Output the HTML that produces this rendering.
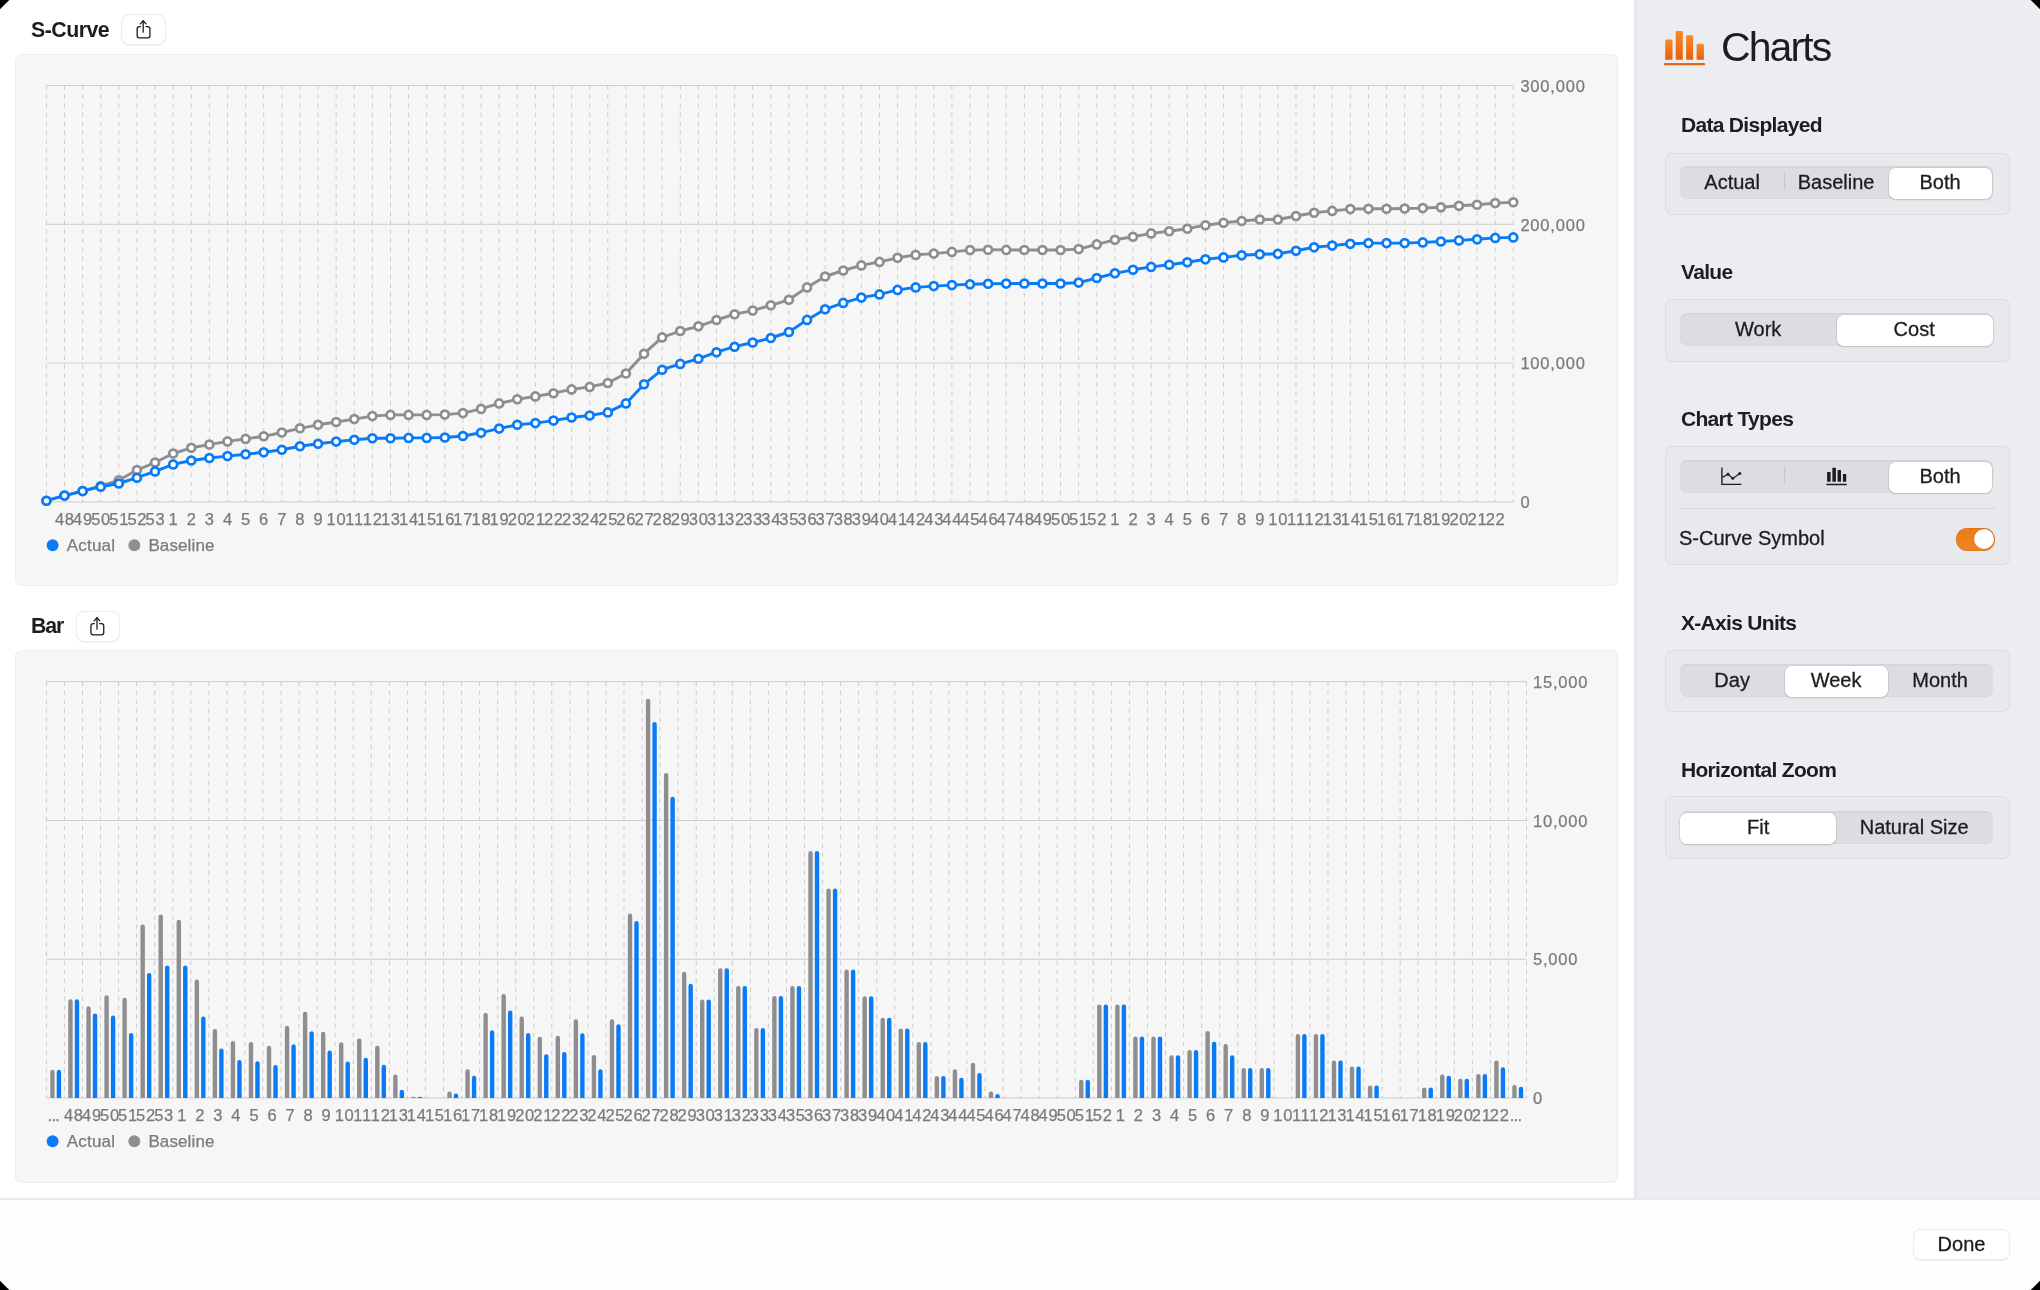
<!DOCTYPE html>
<html><head><meta charset="utf-8"><title>Charts</title>
<style>
html,body{margin:0;padding:0}
body{width:2040px;height:1290px;position:relative;overflow:hidden;background:#ffffff;font-family:"Liberation Sans",sans-serif;color:#1d1d1f}
.abs{position:absolute}
svg,div{will-change:transform}
.panel{position:absolute;background:#f6f6f7;border-radius:6px;box-shadow:inset 0 0 0 1px rgba(0,0,0,0.03)}
.title{position:absolute;font-weight:bold;font-size:21px;line-height:21px;letter-spacing:-0.3px;white-space:nowrap;color:#1d1d1f}
.sbtn{position:absolute;box-sizing:border-box;width:45.4px;height:31.4px;background:#fff;border-radius:8.5px;border:1px solid rgba(0,0,0,0.075);box-shadow:0 0.8px 0.8px rgba(0,0,0,0.06)}
.side{position:absolute;left:1634px;top:0;width:406px;height:1199px;background:#ecedf1;box-shadow:inset 2.5px 0 0 rgba(0,0,0,0.025)}
.head{position:absolute;left:1680.5px;margin-top:-0.5px;font-weight:bold;font-size:21px;line-height:21px;letter-spacing:-0.7px;white-space:nowrap;color:#1d1d1f}
.box{position:absolute;left:1665.2px;width:344.5px;background:#e8e9ed;border-radius:7px;box-shadow:inset 0 0 0 1px rgba(0,0,0,0.05)}
.seg{position:absolute;background:#dcdde1;border-radius:7px;box-shadow:inset 0 1.5px 1px rgba(0,0,0,0.04),inset 0 -1px 0 rgba(0,0,0,0.015)}
.segsel{position:absolute;background:#fff;border-radius:6.5px;box-shadow:0 0 0 0.5px rgba(0,0,0,0.10),0 1px 2px rgba(0,0,0,0.15)}
.segsep{position:absolute;top:7.4px;width:1px;height:16.4px;background:#c6c6ca}
.segitem{position:absolute;top:0;height:33.4px;line-height:33.4px;text-align:center;font-size:20px;color:#1d1d1f;white-space:nowrap;-webkit-text-stroke:0.3px #1d1d1f}
.lbl{position:absolute;font-size:20px;line-height:20px;white-space:nowrap;color:#1d1d1f;-webkit-text-stroke:0.3px #1d1d1f}
.corner{position:absolute;width:0;height:0}
</style></head><body>

<div class="title" style="left:30.9px;top:20.1px;font-size:21.3px;letter-spacing:-0.5px">S-Curve</div>
<div class="sbtn" style="left:121.3px;top:14.3px;width:45.2px;height:31.2px"><svg width="45.2" height="32" viewBox="0 0 45.2 32" style="position:absolute;left:-1px;top:-1px"><g fill="none" stroke="#1d1d1f" stroke-width="1.3" stroke-linecap="round" stroke-linejoin="round"><path d="M19.4 12.65 H18.4 Q16.15 12.65 16.15 14.9 V21.6 Q16.15 23.85 18.4 23.85 H26.7 Q28.95 23.85 28.95 21.6 V14.9 Q28.95 12.65 26.7 12.65 H25"/><path d="M22.2 18.2 V6.9"/><path d="M19.4 9.9 L22.2 6.8 L25 9.9"/></g></svg></div>
<div class="panel" style="left:15px;top:54px;width:1603px;height:532px"></div>
<div class="title" style="left:30.7px;top:616.2px;font-size:21.3px;letter-spacing:-1.1px">Bar</div>
<div class="sbtn" style="left:75.5px;top:610.5px;width:44.2px;height:31.2px"><svg width="44.2" height="32" viewBox="0 0 44.2 32" style="position:absolute;left:-1px;top:-1px"><g fill="none" stroke="#1d1d1f" stroke-width="1.3" stroke-linecap="round" stroke-linejoin="round"><path d="M18.2 12.65 H17.2 Q14.95 12.65 14.95 14.9 V21.6 Q14.95 23.85 17.2 23.85 H25.5 Q27.75 23.85 27.75 21.6 V14.9 Q27.75 12.65 25.5 12.65 H23.8"/><path d="M21 18.2 V6.9"/><path d="M18.2 9.9 L21 6.8 L23.8 9.9"/></g></svg></div>
<div class="panel" style="left:15px;top:650px;width:1603px;height:533px"></div>
<svg class="abs" style="left:0;top:0" width="1634" height="1199" viewBox="0 0 1634 1199">
<line x1="46.4" y1="85.5" x2="1513.31" y2="85.5" stroke="#cdcdcf" stroke-width="1"/>
<line x1="46.4" y1="224.3" x2="1513.31" y2="224.3" stroke="#cdcdcf" stroke-width="1"/>
<line x1="46.4" y1="363.1" x2="1513.31" y2="363.1" stroke="#cdcdcf" stroke-width="1"/>
<line x1="46.4" y1="501.9" x2="1513.31" y2="501.9" stroke="#cdcdcf" stroke-width="1"/>
<g stroke="#cbcbce" stroke-width="1" stroke-dasharray="4.4 4.6">
<line x1="46.4" y1="85.5" x2="46.4" y2="501.9"/>
<line x1="64.51" y1="85.5" x2="64.51" y2="501.9"/>
<line x1="82.62" y1="85.5" x2="82.62" y2="501.9"/>
<line x1="100.73" y1="85.5" x2="100.73" y2="501.9"/>
<line x1="118.84" y1="85.5" x2="118.84" y2="501.9"/>
<line x1="136.95" y1="85.5" x2="136.95" y2="501.9"/>
<line x1="155.06" y1="85.5" x2="155.06" y2="501.9"/>
<line x1="173.17" y1="85.5" x2="173.17" y2="501.9"/>
<line x1="191.28" y1="85.5" x2="191.28" y2="501.9"/>
<line x1="209.39" y1="85.5" x2="209.39" y2="501.9"/>
<line x1="227.5" y1="85.5" x2="227.5" y2="501.9"/>
<line x1="245.61" y1="85.5" x2="245.61" y2="501.9"/>
<line x1="263.72" y1="85.5" x2="263.72" y2="501.9"/>
<line x1="281.83" y1="85.5" x2="281.83" y2="501.9"/>
<line x1="299.94" y1="85.5" x2="299.94" y2="501.9"/>
<line x1="318.05" y1="85.5" x2="318.05" y2="501.9"/>
<line x1="336.16" y1="85.5" x2="336.16" y2="501.9"/>
<line x1="354.27" y1="85.5" x2="354.27" y2="501.9"/>
<line x1="372.38" y1="85.5" x2="372.38" y2="501.9"/>
<line x1="390.49" y1="85.5" x2="390.49" y2="501.9"/>
<line x1="408.6" y1="85.5" x2="408.6" y2="501.9"/>
<line x1="426.71" y1="85.5" x2="426.71" y2="501.9"/>
<line x1="444.82" y1="85.5" x2="444.82" y2="501.9"/>
<line x1="462.93" y1="85.5" x2="462.93" y2="501.9"/>
<line x1="481.04" y1="85.5" x2="481.04" y2="501.9"/>
<line x1="499.15" y1="85.5" x2="499.15" y2="501.9"/>
<line x1="517.26" y1="85.5" x2="517.26" y2="501.9"/>
<line x1="535.37" y1="85.5" x2="535.37" y2="501.9"/>
<line x1="553.48" y1="85.5" x2="553.48" y2="501.9"/>
<line x1="571.59" y1="85.5" x2="571.59" y2="501.9"/>
<line x1="589.7" y1="85.5" x2="589.7" y2="501.9"/>
<line x1="607.81" y1="85.5" x2="607.81" y2="501.9"/>
<line x1="625.92" y1="85.5" x2="625.92" y2="501.9"/>
<line x1="644.03" y1="85.5" x2="644.03" y2="501.9"/>
<line x1="662.14" y1="85.5" x2="662.14" y2="501.9"/>
<line x1="680.25" y1="85.5" x2="680.25" y2="501.9"/>
<line x1="698.36" y1="85.5" x2="698.36" y2="501.9"/>
<line x1="716.47" y1="85.5" x2="716.47" y2="501.9"/>
<line x1="734.58" y1="85.5" x2="734.58" y2="501.9"/>
<line x1="752.69" y1="85.5" x2="752.69" y2="501.9"/>
<line x1="770.8" y1="85.5" x2="770.8" y2="501.9"/>
<line x1="788.91" y1="85.5" x2="788.91" y2="501.9"/>
<line x1="807.02" y1="85.5" x2="807.02" y2="501.9"/>
<line x1="825.13" y1="85.5" x2="825.13" y2="501.9"/>
<line x1="843.24" y1="85.5" x2="843.24" y2="501.9"/>
<line x1="861.35" y1="85.5" x2="861.35" y2="501.9"/>
<line x1="879.46" y1="85.5" x2="879.46" y2="501.9"/>
<line x1="897.57" y1="85.5" x2="897.57" y2="501.9"/>
<line x1="915.68" y1="85.5" x2="915.68" y2="501.9"/>
<line x1="933.79" y1="85.5" x2="933.79" y2="501.9"/>
<line x1="951.9" y1="85.5" x2="951.9" y2="501.9"/>
<line x1="970.01" y1="85.5" x2="970.01" y2="501.9"/>
<line x1="988.12" y1="85.5" x2="988.12" y2="501.9"/>
<line x1="1006.23" y1="85.5" x2="1006.23" y2="501.9"/>
<line x1="1024.34" y1="85.5" x2="1024.34" y2="501.9"/>
<line x1="1042.45" y1="85.5" x2="1042.45" y2="501.9"/>
<line x1="1060.56" y1="85.5" x2="1060.56" y2="501.9"/>
<line x1="1078.67" y1="85.5" x2="1078.67" y2="501.9"/>
<line x1="1096.78" y1="85.5" x2="1096.78" y2="501.9"/>
<line x1="1114.89" y1="85.5" x2="1114.89" y2="501.9"/>
<line x1="1133" y1="85.5" x2="1133" y2="501.9"/>
<line x1="1151.11" y1="85.5" x2="1151.11" y2="501.9"/>
<line x1="1169.22" y1="85.5" x2="1169.22" y2="501.9"/>
<line x1="1187.33" y1="85.5" x2="1187.33" y2="501.9"/>
<line x1="1205.44" y1="85.5" x2="1205.44" y2="501.9"/>
<line x1="1223.55" y1="85.5" x2="1223.55" y2="501.9"/>
<line x1="1241.66" y1="85.5" x2="1241.66" y2="501.9"/>
<line x1="1259.77" y1="85.5" x2="1259.77" y2="501.9"/>
<line x1="1277.88" y1="85.5" x2="1277.88" y2="501.9"/>
<line x1="1295.99" y1="85.5" x2="1295.99" y2="501.9"/>
<line x1="1314.1" y1="85.5" x2="1314.1" y2="501.9"/>
<line x1="1332.21" y1="85.5" x2="1332.21" y2="501.9"/>
<line x1="1350.32" y1="85.5" x2="1350.32" y2="501.9"/>
<line x1="1368.43" y1="85.5" x2="1368.43" y2="501.9"/>
<line x1="1386.54" y1="85.5" x2="1386.54" y2="501.9"/>
<line x1="1404.65" y1="85.5" x2="1404.65" y2="501.9"/>
<line x1="1422.76" y1="85.5" x2="1422.76" y2="501.9"/>
<line x1="1440.87" y1="85.5" x2="1440.87" y2="501.9"/>
<line x1="1458.98" y1="85.5" x2="1458.98" y2="501.9"/>
<line x1="1477.09" y1="85.5" x2="1477.09" y2="501.9"/>
<line x1="1495.2" y1="85.5" x2="1495.2" y2="501.9"/>
<line x1="1513.31" y1="85.5" x2="1513.31" y2="501.9"/>
</g>
<g font-family='"Liberation Sans", sans-serif' font-size="16.5" fill="#7a7a7e" stroke="#7a7a7e" stroke-width="0.25">
<text x="1520.4" y="91.7" letter-spacing="0.8">300,000</text>
<text x="1520.4" y="230.5" letter-spacing="0.8">200,000</text>
<text x="1520.4" y="369.3" letter-spacing="0.8">100,000</text>
<text x="1520.4" y="508.1" letter-spacing="0.8">0</text>
<text x="64.88" y="524.5" text-anchor="middle" letter-spacing="0.75">48</text>
<text x="82.99" y="524.5" text-anchor="middle" letter-spacing="0.75">49</text>
<text x="101.1" y="524.5" text-anchor="middle" letter-spacing="0.75">50</text>
<text x="119.21" y="524.5" text-anchor="middle" letter-spacing="0.75">51</text>
<text x="137.32" y="524.5" text-anchor="middle" letter-spacing="0.75">52</text>
<text x="155.43" y="524.5" text-anchor="middle" letter-spacing="0.75">53</text>
<text x="173.54" y="524.5" text-anchor="middle" letter-spacing="0.75">1</text>
<text x="191.65" y="524.5" text-anchor="middle" letter-spacing="0.75">2</text>
<text x="209.76" y="524.5" text-anchor="middle" letter-spacing="0.75">3</text>
<text x="227.87" y="524.5" text-anchor="middle" letter-spacing="0.75">4</text>
<text x="245.98" y="524.5" text-anchor="middle" letter-spacing="0.75">5</text>
<text x="264.09" y="524.5" text-anchor="middle" letter-spacing="0.75">6</text>
<text x="282.2" y="524.5" text-anchor="middle" letter-spacing="0.75">7</text>
<text x="300.31" y="524.5" text-anchor="middle" letter-spacing="0.75">8</text>
<text x="318.42" y="524.5" text-anchor="middle" letter-spacing="0.75">9</text>
<text x="336.53" y="524.5" text-anchor="middle" letter-spacing="0.75">10</text>
<text x="354.64" y="524.5" text-anchor="middle" letter-spacing="0.75">11</text>
<text x="372.75" y="524.5" text-anchor="middle" letter-spacing="0.75">12</text>
<text x="390.86" y="524.5" text-anchor="middle" letter-spacing="0.75">13</text>
<text x="408.97" y="524.5" text-anchor="middle" letter-spacing="0.75">14</text>
<text x="427.08" y="524.5" text-anchor="middle" letter-spacing="0.75">15</text>
<text x="445.19" y="524.5" text-anchor="middle" letter-spacing="0.75">16</text>
<text x="463.3" y="524.5" text-anchor="middle" letter-spacing="0.75">17</text>
<text x="481.41" y="524.5" text-anchor="middle" letter-spacing="0.75">18</text>
<text x="499.52" y="524.5" text-anchor="middle" letter-spacing="0.75">19</text>
<text x="517.63" y="524.5" text-anchor="middle" letter-spacing="0.75">20</text>
<text x="535.74" y="524.5" text-anchor="middle" letter-spacing="0.75">21</text>
<text x="553.85" y="524.5" text-anchor="middle" letter-spacing="0.75">22</text>
<text x="571.96" y="524.5" text-anchor="middle" letter-spacing="0.75">23</text>
<text x="590.07" y="524.5" text-anchor="middle" letter-spacing="0.75">24</text>
<text x="608.18" y="524.5" text-anchor="middle" letter-spacing="0.75">25</text>
<text x="626.29" y="524.5" text-anchor="middle" letter-spacing="0.75">26</text>
<text x="644.4" y="524.5" text-anchor="middle" letter-spacing="0.75">27</text>
<text x="662.51" y="524.5" text-anchor="middle" letter-spacing="0.75">28</text>
<text x="680.62" y="524.5" text-anchor="middle" letter-spacing="0.75">29</text>
<text x="698.73" y="524.5" text-anchor="middle" letter-spacing="0.75">30</text>
<text x="716.84" y="524.5" text-anchor="middle" letter-spacing="0.75">31</text>
<text x="734.95" y="524.5" text-anchor="middle" letter-spacing="0.75">32</text>
<text x="753.06" y="524.5" text-anchor="middle" letter-spacing="0.75">33</text>
<text x="771.17" y="524.5" text-anchor="middle" letter-spacing="0.75">34</text>
<text x="789.28" y="524.5" text-anchor="middle" letter-spacing="0.75">35</text>
<text x="807.39" y="524.5" text-anchor="middle" letter-spacing="0.75">36</text>
<text x="825.5" y="524.5" text-anchor="middle" letter-spacing="0.75">37</text>
<text x="843.61" y="524.5" text-anchor="middle" letter-spacing="0.75">38</text>
<text x="861.72" y="524.5" text-anchor="middle" letter-spacing="0.75">39</text>
<text x="879.83" y="524.5" text-anchor="middle" letter-spacing="0.75">40</text>
<text x="897.94" y="524.5" text-anchor="middle" letter-spacing="0.75">41</text>
<text x="916.05" y="524.5" text-anchor="middle" letter-spacing="0.75">42</text>
<text x="934.16" y="524.5" text-anchor="middle" letter-spacing="0.75">43</text>
<text x="952.27" y="524.5" text-anchor="middle" letter-spacing="0.75">44</text>
<text x="970.38" y="524.5" text-anchor="middle" letter-spacing="0.75">45</text>
<text x="988.49" y="524.5" text-anchor="middle" letter-spacing="0.75">46</text>
<text x="1006.6" y="524.5" text-anchor="middle" letter-spacing="0.75">47</text>
<text x="1024.71" y="524.5" text-anchor="middle" letter-spacing="0.75">48</text>
<text x="1042.82" y="524.5" text-anchor="middle" letter-spacing="0.75">49</text>
<text x="1060.93" y="524.5" text-anchor="middle" letter-spacing="0.75">50</text>
<text x="1079.04" y="524.5" text-anchor="middle" letter-spacing="0.75">51</text>
<text x="1097.15" y="524.5" text-anchor="middle" letter-spacing="0.75">52</text>
<text x="1115.26" y="524.5" text-anchor="middle" letter-spacing="0.75">1</text>
<text x="1133.37" y="524.5" text-anchor="middle" letter-spacing="0.75">2</text>
<text x="1151.48" y="524.5" text-anchor="middle" letter-spacing="0.75">3</text>
<text x="1169.59" y="524.5" text-anchor="middle" letter-spacing="0.75">4</text>
<text x="1187.7" y="524.5" text-anchor="middle" letter-spacing="0.75">5</text>
<text x="1205.81" y="524.5" text-anchor="middle" letter-spacing="0.75">6</text>
<text x="1223.92" y="524.5" text-anchor="middle" letter-spacing="0.75">7</text>
<text x="1242.03" y="524.5" text-anchor="middle" letter-spacing="0.75">8</text>
<text x="1260.14" y="524.5" text-anchor="middle" letter-spacing="0.75">9</text>
<text x="1278.25" y="524.5" text-anchor="middle" letter-spacing="0.75">10</text>
<text x="1296.36" y="524.5" text-anchor="middle" letter-spacing="0.75">11</text>
<text x="1314.47" y="524.5" text-anchor="middle" letter-spacing="0.75">12</text>
<text x="1332.58" y="524.5" text-anchor="middle" letter-spacing="0.75">13</text>
<text x="1350.69" y="524.5" text-anchor="middle" letter-spacing="0.75">14</text>
<text x="1368.8" y="524.5" text-anchor="middle" letter-spacing="0.75">15</text>
<text x="1386.91" y="524.5" text-anchor="middle" letter-spacing="0.75">16</text>
<text x="1405.02" y="524.5" text-anchor="middle" letter-spacing="0.75">17</text>
<text x="1423.13" y="524.5" text-anchor="middle" letter-spacing="0.75">18</text>
<text x="1441.24" y="524.5" text-anchor="middle" letter-spacing="0.75">19</text>
<text x="1459.35" y="524.5" text-anchor="middle" letter-spacing="0.75">20</text>
<text x="1477.46" y="524.5" text-anchor="middle" letter-spacing="0.75">21</text>
<text x="1495.57" y="524.5" text-anchor="middle" letter-spacing="0.75">22</text>
</g>
<polyline points="46.4,500.7 64.51,495.6 82.62,491 100.73,486 118.84,480.3 136.95,470.1 155.06,462.5 173.17,453.5 191.28,447.8 209.39,444.6 227.5,441.4 245.61,438.9 263.72,436.3 281.83,432.5 299.94,428.3 318.05,424.8 336.16,422 354.27,419.1 372.38,416.1 390.49,414.9 408.6,414.9 426.71,414.9 444.82,414.6 462.93,413.1 481.04,408.9 499.15,403.4 517.26,399.3 535.37,396.4 553.48,393.2 571.59,389.4 589.7,386.9 607.81,383 625.92,373.5 644.03,353.7 662.14,337.4 680.25,331 698.36,326.3 716.47,320 734.58,314.2 752.69,310.6 770.8,305.3 788.91,299.8 807.02,287.4 825.13,276.5 843.24,270.5 861.35,265.4 879.46,261.9 897.57,257.8 915.68,254.9 933.79,253.6 951.9,251.9 970.01,250.1 988.12,249.8 1006.23,249.9 1024.34,250 1042.45,250 1060.56,250 1078.67,249.1 1096.78,244.4 1114.89,239.8 1133,236.7 1151.11,233.4 1169.22,231.2 1187.33,228.7 1205.44,225.2 1223.55,222.7 1241.66,221 1259.77,219.5 1277.88,219.5 1295.99,216 1314.1,212.7 1332.21,210.9 1350.32,209.1 1368.43,208.8 1386.54,208.8 1404.65,208.5 1422.76,208.1 1440.87,207.2 1458.98,205.8 1477.09,204.7 1495.2,203.1 1513.31,202.2" fill="none" stroke="#8e8e91" stroke-width="2.9" stroke-linejoin="round"/>
<g fill="#ffffff" stroke="#8e8e91" stroke-width="2.75">
<circle cx="46.4" cy="500.7" r="3.95"/>
<circle cx="64.51" cy="495.6" r="3.95"/>
<circle cx="82.62" cy="491" r="3.95"/>
<circle cx="100.73" cy="486" r="3.95"/>
<circle cx="118.84" cy="480.3" r="3.95"/>
<circle cx="136.95" cy="470.1" r="3.95"/>
<circle cx="155.06" cy="462.5" r="3.95"/>
<circle cx="173.17" cy="453.5" r="3.95"/>
<circle cx="191.28" cy="447.8" r="3.95"/>
<circle cx="209.39" cy="444.6" r="3.95"/>
<circle cx="227.5" cy="441.4" r="3.95"/>
<circle cx="245.61" cy="438.9" r="3.95"/>
<circle cx="263.72" cy="436.3" r="3.95"/>
<circle cx="281.83" cy="432.5" r="3.95"/>
<circle cx="299.94" cy="428.3" r="3.95"/>
<circle cx="318.05" cy="424.8" r="3.95"/>
<circle cx="336.16" cy="422" r="3.95"/>
<circle cx="354.27" cy="419.1" r="3.95"/>
<circle cx="372.38" cy="416.1" r="3.95"/>
<circle cx="390.49" cy="414.9" r="3.95"/>
<circle cx="408.6" cy="414.9" r="3.95"/>
<circle cx="426.71" cy="414.9" r="3.95"/>
<circle cx="444.82" cy="414.6" r="3.95"/>
<circle cx="462.93" cy="413.1" r="3.95"/>
<circle cx="481.04" cy="408.9" r="3.95"/>
<circle cx="499.15" cy="403.4" r="3.95"/>
<circle cx="517.26" cy="399.3" r="3.95"/>
<circle cx="535.37" cy="396.4" r="3.95"/>
<circle cx="553.48" cy="393.2" r="3.95"/>
<circle cx="571.59" cy="389.4" r="3.95"/>
<circle cx="589.7" cy="386.9" r="3.95"/>
<circle cx="607.81" cy="383" r="3.95"/>
<circle cx="625.92" cy="373.5" r="3.95"/>
<circle cx="644.03" cy="353.7" r="3.95"/>
<circle cx="662.14" cy="337.4" r="3.95"/>
<circle cx="680.25" cy="331" r="3.95"/>
<circle cx="698.36" cy="326.3" r="3.95"/>
<circle cx="716.47" cy="320" r="3.95"/>
<circle cx="734.58" cy="314.2" r="3.95"/>
<circle cx="752.69" cy="310.6" r="3.95"/>
<circle cx="770.8" cy="305.3" r="3.95"/>
<circle cx="788.91" cy="299.8" r="3.95"/>
<circle cx="807.02" cy="287.4" r="3.95"/>
<circle cx="825.13" cy="276.5" r="3.95"/>
<circle cx="843.24" cy="270.5" r="3.95"/>
<circle cx="861.35" cy="265.4" r="3.95"/>
<circle cx="879.46" cy="261.9" r="3.95"/>
<circle cx="897.57" cy="257.8" r="3.95"/>
<circle cx="915.68" cy="254.9" r="3.95"/>
<circle cx="933.79" cy="253.6" r="3.95"/>
<circle cx="951.9" cy="251.9" r="3.95"/>
<circle cx="970.01" cy="250.1" r="3.95"/>
<circle cx="988.12" cy="249.8" r="3.95"/>
<circle cx="1006.23" cy="249.9" r="3.95"/>
<circle cx="1024.34" cy="250" r="3.95"/>
<circle cx="1042.45" cy="250" r="3.95"/>
<circle cx="1060.56" cy="250" r="3.95"/>
<circle cx="1078.67" cy="249.1" r="3.95"/>
<circle cx="1096.78" cy="244.4" r="3.95"/>
<circle cx="1114.89" cy="239.8" r="3.95"/>
<circle cx="1133" cy="236.7" r="3.95"/>
<circle cx="1151.11" cy="233.4" r="3.95"/>
<circle cx="1169.22" cy="231.2" r="3.95"/>
<circle cx="1187.33" cy="228.7" r="3.95"/>
<circle cx="1205.44" cy="225.2" r="3.95"/>
<circle cx="1223.55" cy="222.7" r="3.95"/>
<circle cx="1241.66" cy="221" r="3.95"/>
<circle cx="1259.77" cy="219.5" r="3.95"/>
<circle cx="1277.88" cy="219.5" r="3.95"/>
<circle cx="1295.99" cy="216" r="3.95"/>
<circle cx="1314.1" cy="212.7" r="3.95"/>
<circle cx="1332.21" cy="210.9" r="3.95"/>
<circle cx="1350.32" cy="209.1" r="3.95"/>
<circle cx="1368.43" cy="208.8" r="3.95"/>
<circle cx="1386.54" cy="208.8" r="3.95"/>
<circle cx="1404.65" cy="208.5" r="3.95"/>
<circle cx="1422.76" cy="208.1" r="3.95"/>
<circle cx="1440.87" cy="207.2" r="3.95"/>
<circle cx="1458.98" cy="205.8" r="3.95"/>
<circle cx="1477.09" cy="204.7" r="3.95"/>
<circle cx="1495.2" cy="203.1" r="3.95"/>
<circle cx="1513.31" cy="202.2" r="3.95"/>
</g>
<polyline points="46.4,500.7 64.51,495.6 82.62,491.1 100.73,486.7 118.84,483.5 136.95,477.7 155.06,471.4 173.17,464.4 191.28,460.5 209.39,458 227.5,456.1 245.61,454.2 263.72,452.3 281.83,449.7 299.94,446.3 318.05,443.7 336.16,441.6 354.27,439.8 372.38,438.2 390.49,438.2 408.6,437.9 426.71,437.9 444.82,437.5 462.93,436 481.04,432.7 499.15,428.6 517.26,424.8 535.37,423.1 553.48,420.6 571.59,417.5 589.7,415.5 607.81,412.4 625.92,403.4 644.03,384.3 662.14,369.7 680.25,363.9 698.36,358.8 716.47,352.2 734.58,346.7 752.69,342.5 770.8,338 788.91,332 807.02,319.9 825.13,309.3 843.24,302.9 861.35,297.6 879.46,294.4 897.57,289.9 915.68,287.4 933.79,286.1 951.9,285.1 970.01,284.2 988.12,283.8 1006.23,283.6 1024.34,283.5 1042.45,283.5 1060.56,283.5 1078.67,282.6 1096.78,278 1114.89,273.3 1133,269.8 1151.11,266.9 1169.22,264.7 1187.33,262.2 1205.44,259.3 1223.55,257.4 1241.66,255.3 1259.77,254.2 1277.88,253.8 1295.99,250.7 1314.1,247.3 1332.21,245.6 1350.32,243.8 1368.43,243.1 1386.54,243.1 1404.65,243.1 1422.76,242.4 1440.87,241.5 1458.98,240.4 1477.09,239.3 1495.2,237.9 1513.31,237.4" fill="none" stroke="#0a7bf7" stroke-width="2.9" stroke-linejoin="round"/>
<g fill="#ffffff" stroke="#0a7bf7" stroke-width="2.75">
<circle cx="46.4" cy="500.7" r="3.95"/>
<circle cx="64.51" cy="495.6" r="3.95"/>
<circle cx="82.62" cy="491.1" r="3.95"/>
<circle cx="100.73" cy="486.7" r="3.95"/>
<circle cx="118.84" cy="483.5" r="3.95"/>
<circle cx="136.95" cy="477.7" r="3.95"/>
<circle cx="155.06" cy="471.4" r="3.95"/>
<circle cx="173.17" cy="464.4" r="3.95"/>
<circle cx="191.28" cy="460.5" r="3.95"/>
<circle cx="209.39" cy="458" r="3.95"/>
<circle cx="227.5" cy="456.1" r="3.95"/>
<circle cx="245.61" cy="454.2" r="3.95"/>
<circle cx="263.72" cy="452.3" r="3.95"/>
<circle cx="281.83" cy="449.7" r="3.95"/>
<circle cx="299.94" cy="446.3" r="3.95"/>
<circle cx="318.05" cy="443.7" r="3.95"/>
<circle cx="336.16" cy="441.6" r="3.95"/>
<circle cx="354.27" cy="439.8" r="3.95"/>
<circle cx="372.38" cy="438.2" r="3.95"/>
<circle cx="390.49" cy="438.2" r="3.95"/>
<circle cx="408.6" cy="437.9" r="3.95"/>
<circle cx="426.71" cy="437.9" r="3.95"/>
<circle cx="444.82" cy="437.5" r="3.95"/>
<circle cx="462.93" cy="436" r="3.95"/>
<circle cx="481.04" cy="432.7" r="3.95"/>
<circle cx="499.15" cy="428.6" r="3.95"/>
<circle cx="517.26" cy="424.8" r="3.95"/>
<circle cx="535.37" cy="423.1" r="3.95"/>
<circle cx="553.48" cy="420.6" r="3.95"/>
<circle cx="571.59" cy="417.5" r="3.95"/>
<circle cx="589.7" cy="415.5" r="3.95"/>
<circle cx="607.81" cy="412.4" r="3.95"/>
<circle cx="625.92" cy="403.4" r="3.95"/>
<circle cx="644.03" cy="384.3" r="3.95"/>
<circle cx="662.14" cy="369.7" r="3.95"/>
<circle cx="680.25" cy="363.9" r="3.95"/>
<circle cx="698.36" cy="358.8" r="3.95"/>
<circle cx="716.47" cy="352.2" r="3.95"/>
<circle cx="734.58" cy="346.7" r="3.95"/>
<circle cx="752.69" cy="342.5" r="3.95"/>
<circle cx="770.8" cy="338" r="3.95"/>
<circle cx="788.91" cy="332" r="3.95"/>
<circle cx="807.02" cy="319.9" r="3.95"/>
<circle cx="825.13" cy="309.3" r="3.95"/>
<circle cx="843.24" cy="302.9" r="3.95"/>
<circle cx="861.35" cy="297.6" r="3.95"/>
<circle cx="879.46" cy="294.4" r="3.95"/>
<circle cx="897.57" cy="289.9" r="3.95"/>
<circle cx="915.68" cy="287.4" r="3.95"/>
<circle cx="933.79" cy="286.1" r="3.95"/>
<circle cx="951.9" cy="285.1" r="3.95"/>
<circle cx="970.01" cy="284.2" r="3.95"/>
<circle cx="988.12" cy="283.8" r="3.95"/>
<circle cx="1006.23" cy="283.6" r="3.95"/>
<circle cx="1024.34" cy="283.5" r="3.95"/>
<circle cx="1042.45" cy="283.5" r="3.95"/>
<circle cx="1060.56" cy="283.5" r="3.95"/>
<circle cx="1078.67" cy="282.6" r="3.95"/>
<circle cx="1096.78" cy="278" r="3.95"/>
<circle cx="1114.89" cy="273.3" r="3.95"/>
<circle cx="1133" cy="269.8" r="3.95"/>
<circle cx="1151.11" cy="266.9" r="3.95"/>
<circle cx="1169.22" cy="264.7" r="3.95"/>
<circle cx="1187.33" cy="262.2" r="3.95"/>
<circle cx="1205.44" cy="259.3" r="3.95"/>
<circle cx="1223.55" cy="257.4" r="3.95"/>
<circle cx="1241.66" cy="255.3" r="3.95"/>
<circle cx="1259.77" cy="254.2" r="3.95"/>
<circle cx="1277.88" cy="253.8" r="3.95"/>
<circle cx="1295.99" cy="250.7" r="3.95"/>
<circle cx="1314.1" cy="247.3" r="3.95"/>
<circle cx="1332.21" cy="245.6" r="3.95"/>
<circle cx="1350.32" cy="243.8" r="3.95"/>
<circle cx="1368.43" cy="243.1" r="3.95"/>
<circle cx="1386.54" cy="243.1" r="3.95"/>
<circle cx="1404.65" cy="243.1" r="3.95"/>
<circle cx="1422.76" cy="242.4" r="3.95"/>
<circle cx="1440.87" cy="241.5" r="3.95"/>
<circle cx="1458.98" cy="240.4" r="3.95"/>
<circle cx="1477.09" cy="239.3" r="3.95"/>
<circle cx="1495.2" cy="237.9" r="3.95"/>
<circle cx="1513.31" cy="237.4" r="3.95"/>
</g>
<circle cx="52.6" cy="545.3" r="5.95" fill="#0a7bf7"/><circle cx="134.3" cy="545.3" r="5.95" fill="#8e8e91"/><text x="66.8" y="551.1" font-family='"Liberation Sans", sans-serif' font-size="17" letter-spacing="0.2" fill="#7a7a7e" stroke="#7a7a7e" stroke-width="0.25">Actual</text><text x="148.4" y="551.1" font-family='"Liberation Sans", sans-serif' font-size="17" letter-spacing="0.12" fill="#7a7a7e" stroke="#7a7a7e" stroke-width="0.25">Baseline</text>
<line x1="46.4" y1="681.7" x2="1526.5" y2="681.7" stroke="#cdcdcf" stroke-width="1"/>
<line x1="46.4" y1="820.47" x2="1526.5" y2="820.47" stroke="#cdcdcf" stroke-width="1"/>
<line x1="46.4" y1="959.23" x2="1526.5" y2="959.23" stroke="#cdcdcf" stroke-width="1"/>
<line x1="46.4" y1="1098" x2="1526.5" y2="1098" stroke="#cdcdcf" stroke-width="1"/>
<g stroke="#cbcbce" stroke-width="1" stroke-dasharray="4.4 4.6">
<line x1="46.4" y1="681.7" x2="46.4" y2="1098"/>
<line x1="64.45" y1="681.7" x2="64.45" y2="1098"/>
<line x1="82.5" y1="681.7" x2="82.5" y2="1098"/>
<line x1="100.55" y1="681.7" x2="100.55" y2="1098"/>
<line x1="118.6" y1="681.7" x2="118.6" y2="1098"/>
<line x1="136.65" y1="681.7" x2="136.65" y2="1098"/>
<line x1="154.7" y1="681.7" x2="154.7" y2="1098"/>
<line x1="172.75" y1="681.7" x2="172.75" y2="1098"/>
<line x1="190.8" y1="681.7" x2="190.8" y2="1098"/>
<line x1="208.85" y1="681.7" x2="208.85" y2="1098"/>
<line x1="226.9" y1="681.7" x2="226.9" y2="1098"/>
<line x1="244.95" y1="681.7" x2="244.95" y2="1098"/>
<line x1="263" y1="681.7" x2="263" y2="1098"/>
<line x1="281.05" y1="681.7" x2="281.05" y2="1098"/>
<line x1="299.1" y1="681.7" x2="299.1" y2="1098"/>
<line x1="317.15" y1="681.7" x2="317.15" y2="1098"/>
<line x1="335.2" y1="681.7" x2="335.2" y2="1098"/>
<line x1="353.25" y1="681.7" x2="353.25" y2="1098"/>
<line x1="371.3" y1="681.7" x2="371.3" y2="1098"/>
<line x1="389.35" y1="681.7" x2="389.35" y2="1098"/>
<line x1="407.4" y1="681.7" x2="407.4" y2="1098"/>
<line x1="425.45" y1="681.7" x2="425.45" y2="1098"/>
<line x1="443.5" y1="681.7" x2="443.5" y2="1098"/>
<line x1="461.55" y1="681.7" x2="461.55" y2="1098"/>
<line x1="479.6" y1="681.7" x2="479.6" y2="1098"/>
<line x1="497.65" y1="681.7" x2="497.65" y2="1098"/>
<line x1="515.7" y1="681.7" x2="515.7" y2="1098"/>
<line x1="533.75" y1="681.7" x2="533.75" y2="1098"/>
<line x1="551.8" y1="681.7" x2="551.8" y2="1098"/>
<line x1="569.85" y1="681.7" x2="569.85" y2="1098"/>
<line x1="587.9" y1="681.7" x2="587.9" y2="1098"/>
<line x1="605.95" y1="681.7" x2="605.95" y2="1098"/>
<line x1="624" y1="681.7" x2="624" y2="1098"/>
<line x1="642.05" y1="681.7" x2="642.05" y2="1098"/>
<line x1="660.1" y1="681.7" x2="660.1" y2="1098"/>
<line x1="678.15" y1="681.7" x2="678.15" y2="1098"/>
<line x1="696.2" y1="681.7" x2="696.2" y2="1098"/>
<line x1="714.25" y1="681.7" x2="714.25" y2="1098"/>
<line x1="732.3" y1="681.7" x2="732.3" y2="1098"/>
<line x1="750.35" y1="681.7" x2="750.35" y2="1098"/>
<line x1="768.4" y1="681.7" x2="768.4" y2="1098"/>
<line x1="786.45" y1="681.7" x2="786.45" y2="1098"/>
<line x1="804.5" y1="681.7" x2="804.5" y2="1098"/>
<line x1="822.55" y1="681.7" x2="822.55" y2="1098"/>
<line x1="840.6" y1="681.7" x2="840.6" y2="1098"/>
<line x1="858.65" y1="681.7" x2="858.65" y2="1098"/>
<line x1="876.7" y1="681.7" x2="876.7" y2="1098"/>
<line x1="894.75" y1="681.7" x2="894.75" y2="1098"/>
<line x1="912.8" y1="681.7" x2="912.8" y2="1098"/>
<line x1="930.85" y1="681.7" x2="930.85" y2="1098"/>
<line x1="948.9" y1="681.7" x2="948.9" y2="1098"/>
<line x1="966.95" y1="681.7" x2="966.95" y2="1098"/>
<line x1="985" y1="681.7" x2="985" y2="1098"/>
<line x1="1003.05" y1="681.7" x2="1003.05" y2="1098"/>
<line x1="1021.1" y1="681.7" x2="1021.1" y2="1098"/>
<line x1="1039.15" y1="681.7" x2="1039.15" y2="1098"/>
<line x1="1057.2" y1="681.7" x2="1057.2" y2="1098"/>
<line x1="1075.25" y1="681.7" x2="1075.25" y2="1098"/>
<line x1="1093.3" y1="681.7" x2="1093.3" y2="1098"/>
<line x1="1111.35" y1="681.7" x2="1111.35" y2="1098"/>
<line x1="1129.4" y1="681.7" x2="1129.4" y2="1098"/>
<line x1="1147.45" y1="681.7" x2="1147.45" y2="1098"/>
<line x1="1165.5" y1="681.7" x2="1165.5" y2="1098"/>
<line x1="1183.55" y1="681.7" x2="1183.55" y2="1098"/>
<line x1="1201.6" y1="681.7" x2="1201.6" y2="1098"/>
<line x1="1219.65" y1="681.7" x2="1219.65" y2="1098"/>
<line x1="1237.7" y1="681.7" x2="1237.7" y2="1098"/>
<line x1="1255.75" y1="681.7" x2="1255.75" y2="1098"/>
<line x1="1273.8" y1="681.7" x2="1273.8" y2="1098"/>
<line x1="1291.85" y1="681.7" x2="1291.85" y2="1098"/>
<line x1="1309.9" y1="681.7" x2="1309.9" y2="1098"/>
<line x1="1327.95" y1="681.7" x2="1327.95" y2="1098"/>
<line x1="1346" y1="681.7" x2="1346" y2="1098"/>
<line x1="1364.05" y1="681.7" x2="1364.05" y2="1098"/>
<line x1="1382.1" y1="681.7" x2="1382.1" y2="1098"/>
<line x1="1400.15" y1="681.7" x2="1400.15" y2="1098"/>
<line x1="1418.2" y1="681.7" x2="1418.2" y2="1098"/>
<line x1="1436.25" y1="681.7" x2="1436.25" y2="1098"/>
<line x1="1454.3" y1="681.7" x2="1454.3" y2="1098"/>
<line x1="1472.35" y1="681.7" x2="1472.35" y2="1098"/>
<line x1="1490.4" y1="681.7" x2="1490.4" y2="1098"/>
<line x1="1508.45" y1="681.7" x2="1508.45" y2="1098"/>
<line x1="1526.5" y1="681.7" x2="1526.5" y2="1098"/>
</g>
<g font-family='"Liberation Sans", sans-serif' font-size="16.5" fill="#7a7a7e" stroke="#7a7a7e" stroke-width="0.25">
<text x="1533" y="687.9" letter-spacing="0.8">15,000</text>
<text x="1533" y="826.67" letter-spacing="0.8">10,000</text>
<text x="1533" y="965.43" letter-spacing="0.8">5,000</text>
<text x="1533" y="1104.2" letter-spacing="0.8">0</text>
<text x="53.42" y="1120.8" text-anchor="middle" letter-spacing="-0.7">...</text>
<text x="73.84" y="1120.8" text-anchor="middle" letter-spacing="0.75">48</text>
<text x="91.9" y="1120.8" text-anchor="middle" letter-spacing="0.75">49</text>
<text x="109.95" y="1120.8" text-anchor="middle" letter-spacing="0.75">50</text>
<text x="128" y="1120.8" text-anchor="middle" letter-spacing="0.75">51</text>
<text x="146.05" y="1120.8" text-anchor="middle" letter-spacing="0.75">52</text>
<text x="164.09" y="1120.8" text-anchor="middle" letter-spacing="0.75">53</text>
<text x="182.15" y="1120.8" text-anchor="middle" letter-spacing="0.75">1</text>
<text x="200.2" y="1120.8" text-anchor="middle" letter-spacing="0.75">2</text>
<text x="218.25" y="1120.8" text-anchor="middle" letter-spacing="0.75">3</text>
<text x="236.3" y="1120.8" text-anchor="middle" letter-spacing="0.75">4</text>
<text x="254.35" y="1120.8" text-anchor="middle" letter-spacing="0.75">5</text>
<text x="272.39" y="1120.8" text-anchor="middle" letter-spacing="0.75">6</text>
<text x="290.44" y="1120.8" text-anchor="middle" letter-spacing="0.75">7</text>
<text x="308.5" y="1120.8" text-anchor="middle" letter-spacing="0.75">8</text>
<text x="326.55" y="1120.8" text-anchor="middle" letter-spacing="0.75">9</text>
<text x="344.59" y="1120.8" text-anchor="middle" letter-spacing="0.75">10</text>
<text x="362.64" y="1120.8" text-anchor="middle" letter-spacing="0.75">11</text>
<text x="380.69" y="1120.8" text-anchor="middle" letter-spacing="0.75">12</text>
<text x="398.75" y="1120.8" text-anchor="middle" letter-spacing="0.75">13</text>
<text x="416.8" y="1120.8" text-anchor="middle" letter-spacing="0.75">14</text>
<text x="434.84" y="1120.8" text-anchor="middle" letter-spacing="0.75">15</text>
<text x="452.89" y="1120.8" text-anchor="middle" letter-spacing="0.75">16</text>
<text x="470.94" y="1120.8" text-anchor="middle" letter-spacing="0.75">17</text>
<text x="489" y="1120.8" text-anchor="middle" letter-spacing="0.75">18</text>
<text x="507.05" y="1120.8" text-anchor="middle" letter-spacing="0.75">19</text>
<text x="525.1" y="1120.8" text-anchor="middle" letter-spacing="0.75">20</text>
<text x="543.14" y="1120.8" text-anchor="middle" letter-spacing="0.75">21</text>
<text x="561.2" y="1120.8" text-anchor="middle" letter-spacing="0.75">22</text>
<text x="579.25" y="1120.8" text-anchor="middle" letter-spacing="0.75">23</text>
<text x="597.29" y="1120.8" text-anchor="middle" letter-spacing="0.75">24</text>
<text x="615.35" y="1120.8" text-anchor="middle" letter-spacing="0.75">25</text>
<text x="633.39" y="1120.8" text-anchor="middle" letter-spacing="0.75">26</text>
<text x="651.45" y="1120.8" text-anchor="middle" letter-spacing="0.75">27</text>
<text x="669.5" y="1120.8" text-anchor="middle" letter-spacing="0.75">28</text>
<text x="687.54" y="1120.8" text-anchor="middle" letter-spacing="0.75">29</text>
<text x="705.6" y="1120.8" text-anchor="middle" letter-spacing="0.75">30</text>
<text x="723.64" y="1120.8" text-anchor="middle" letter-spacing="0.75">31</text>
<text x="741.7" y="1120.8" text-anchor="middle" letter-spacing="0.75">32</text>
<text x="759.75" y="1120.8" text-anchor="middle" letter-spacing="0.75">33</text>
<text x="777.79" y="1120.8" text-anchor="middle" letter-spacing="0.75">34</text>
<text x="795.85" y="1120.8" text-anchor="middle" letter-spacing="0.75">35</text>
<text x="813.89" y="1120.8" text-anchor="middle" letter-spacing="0.75">36</text>
<text x="831.95" y="1120.8" text-anchor="middle" letter-spacing="0.75">37</text>
<text x="850" y="1120.8" text-anchor="middle" letter-spacing="0.75">38</text>
<text x="868.04" y="1120.8" text-anchor="middle" letter-spacing="0.75">39</text>
<text x="886.1" y="1120.8" text-anchor="middle" letter-spacing="0.75">40</text>
<text x="904.14" y="1120.8" text-anchor="middle" letter-spacing="0.75">41</text>
<text x="922.2" y="1120.8" text-anchor="middle" letter-spacing="0.75">42</text>
<text x="940.25" y="1120.8" text-anchor="middle" letter-spacing="0.75">43</text>
<text x="958.3" y="1120.8" text-anchor="middle" letter-spacing="0.75">44</text>
<text x="976.35" y="1120.8" text-anchor="middle" letter-spacing="0.75">45</text>
<text x="994.39" y="1120.8" text-anchor="middle" letter-spacing="0.75">46</text>
<text x="1012.45" y="1120.8" text-anchor="middle" letter-spacing="0.75">47</text>
<text x="1030.49" y="1120.8" text-anchor="middle" letter-spacing="0.75">48</text>
<text x="1048.55" y="1120.8" text-anchor="middle" letter-spacing="0.75">49</text>
<text x="1066.6" y="1120.8" text-anchor="middle" letter-spacing="0.75">50</text>
<text x="1084.64" y="1120.8" text-anchor="middle" letter-spacing="0.75">51</text>
<text x="1102.69" y="1120.8" text-anchor="middle" letter-spacing="0.75">52</text>
<text x="1120.75" y="1120.8" text-anchor="middle" letter-spacing="0.75">1</text>
<text x="1138.8" y="1120.8" text-anchor="middle" letter-spacing="0.75">2</text>
<text x="1156.85" y="1120.8" text-anchor="middle" letter-spacing="0.75">3</text>
<text x="1174.89" y="1120.8" text-anchor="middle" letter-spacing="0.75">4</text>
<text x="1192.94" y="1120.8" text-anchor="middle" letter-spacing="0.75">5</text>
<text x="1211" y="1120.8" text-anchor="middle" letter-spacing="0.75">6</text>
<text x="1229.05" y="1120.8" text-anchor="middle" letter-spacing="0.75">7</text>
<text x="1247.1" y="1120.8" text-anchor="middle" letter-spacing="0.75">8</text>
<text x="1265.14" y="1120.8" text-anchor="middle" letter-spacing="0.75">9</text>
<text x="1283.19" y="1120.8" text-anchor="middle" letter-spacing="0.75">10</text>
<text x="1301.25" y="1120.8" text-anchor="middle" letter-spacing="0.75">11</text>
<text x="1319.3" y="1120.8" text-anchor="middle" letter-spacing="0.75">12</text>
<text x="1337.35" y="1120.8" text-anchor="middle" letter-spacing="0.75">13</text>
<text x="1355.39" y="1120.8" text-anchor="middle" letter-spacing="0.75">14</text>
<text x="1373.44" y="1120.8" text-anchor="middle" letter-spacing="0.75">15</text>
<text x="1391.5" y="1120.8" text-anchor="middle" letter-spacing="0.75">16</text>
<text x="1409.55" y="1120.8" text-anchor="middle" letter-spacing="0.75">17</text>
<text x="1427.6" y="1120.8" text-anchor="middle" letter-spacing="0.75">18</text>
<text x="1445.64" y="1120.8" text-anchor="middle" letter-spacing="0.75">19</text>
<text x="1463.69" y="1120.8" text-anchor="middle" letter-spacing="0.75">20</text>
<text x="1481.75" y="1120.8" text-anchor="middle" letter-spacing="0.75">21</text>
<text x="1499.8" y="1120.8" text-anchor="middle" letter-spacing="0.75">22</text>
<text x="1515.48" y="1120.8" text-anchor="middle" letter-spacing="-0.7">...</text>
</g>
<path d="M50.22 1098 V1072 A2.2 2.2 0 0 1 54.62 1072 V1098 Z M68.27 1098 V1001.4 A2.2 2.2 0 0 1 72.67 1001.4 V1098 Z M86.33 1098 V1008.4 A2.2 2.2 0 0 1 90.73 1008.4 V1098 Z M104.38 1098 V997.5 A2.2 2.2 0 0 1 108.78 997.5 V1098 Z M122.42 1098 V999.9 A2.2 2.2 0 0 1 126.83 999.9 V1098 Z M140.48 1098 V926.7 A2.2 2.2 0 0 1 144.88 926.7 V1098 Z M158.53 1098 V916.6 A2.2 2.2 0 0 1 162.93 916.6 V1098 Z M176.58 1098 V921.9 A2.2 2.2 0 0 1 180.98 921.9 V1098 Z M194.63 1098 V981.6 A2.2 2.2 0 0 1 199.03 981.6 V1098 Z M212.68 1098 V1031.3 A2.2 2.2 0 0 1 217.08 1031.3 V1098 Z M230.73 1098 V1043.3 A2.2 2.2 0 0 1 235.13 1043.3 V1098 Z M248.78 1098 V1044.1 A2.2 2.2 0 0 1 253.18 1044.1 V1098 Z M266.82 1098 V1047.9 A2.2 2.2 0 0 1 271.22 1047.9 V1098 Z M284.88 1098 V1027.8 A2.2 2.2 0 0 1 289.27 1027.8 V1098 Z M302.93 1098 V1013.8 A2.2 2.2 0 0 1 307.32 1013.8 V1098 Z M320.98 1098 V1034 A2.2 2.2 0 0 1 325.38 1034 V1098 Z M339.02 1098 V1044.5 A2.2 2.2 0 0 1 343.42 1044.5 V1098 Z M357.07 1098 V1040.6 A2.2 2.2 0 0 1 361.47 1040.6 V1098 Z M375.12 1098 V1047.9 A2.2 2.2 0 0 1 379.52 1047.9 V1098 Z M393.18 1098 V1076.6 A2.2 2.2 0 0 1 397.57 1076.6 V1098 Z M411.23 1098 V1097.3 A2.2 0.7 0 0 1 415.62 1097.3 V1098 Z M447.32 1098 V1093.7 A2.2 2.2 0 0 1 451.72 1093.7 V1098 Z M465.38 1098 V1071.2 A2.2 2.2 0 0 1 469.77 1071.2 V1098 Z M483.43 1098 V1014.9 A2.2 2.2 0 0 1 487.82 1014.9 V1098 Z M501.48 1098 V996.3 A2.2 2.2 0 0 1 505.88 996.3 V1098 Z M519.52 1098 V1018.8 A2.2 2.2 0 0 1 523.92 1018.8 V1098 Z M537.57 1098 V1038.9 A2.2 2.2 0 0 1 541.97 1038.9 V1098 Z M555.62 1098 V1037.9 A2.2 2.2 0 0 1 560.02 1037.9 V1098 Z M573.67 1098 V1021.4 A2.2 2.2 0 0 1 578.07 1021.4 V1098 Z M591.72 1098 V1057.2 A2.2 2.2 0 0 1 596.12 1057.2 V1098 Z M609.77 1098 V1021.4 A2.2 2.2 0 0 1 614.17 1021.4 V1098 Z M627.82 1098 V915.8 A2.2 2.2 0 0 1 632.22 915.8 V1098 Z M645.88 1098 V700.7 A2.2 2.2 0 0 1 650.27 700.7 V1098 Z M663.92 1098 V775.3 A2.2 2.2 0 0 1 668.32 775.3 V1098 Z M681.97 1098 V974 A2.2 2.2 0 0 1 686.37 974 V1098 Z M700.02 1098 V1001.8 A2.2 2.2 0 0 1 704.42 1001.8 V1098 Z M718.07 1098 V970.4 A2.2 2.2 0 0 1 722.47 970.4 V1098 Z M736.12 1098 V988.2 A2.2 2.2 0 0 1 740.52 988.2 V1098 Z M754.17 1098 V1030.2 A2.2 2.2 0 0 1 758.57 1030.2 V1098 Z M772.22 1098 V998.2 A2.2 2.2 0 0 1 776.62 998.2 V1098 Z M790.27 1098 V988.2 A2.2 2.2 0 0 1 794.67 988.2 V1098 Z M808.32 1098 V853.3 A2.2 2.2 0 0 1 812.72 853.3 V1098 Z M826.38 1098 V890.6 A2.2 2.2 0 0 1 830.77 890.6 V1098 Z M844.42 1098 V971.6 A2.2 2.2 0 0 1 848.82 971.6 V1098 Z M862.47 1098 V998.5 A2.2 2.2 0 0 1 866.87 998.5 V1098 Z M880.52 1098 V1020 A2.2 2.2 0 0 1 884.92 1020 V1098 Z M898.57 1098 V1030.7 A2.2 2.2 0 0 1 902.97 1030.7 V1098 Z M916.62 1098 V1044.2 A2.2 2.2 0 0 1 921.02 1044.2 V1098 Z M934.67 1098 V1078.1 A2.2 2.2 0 0 1 939.07 1078.1 V1098 Z M952.73 1098 V1071.4 A2.2 2.2 0 0 1 957.12 1071.4 V1098 Z M970.77 1098 V1065 A2.2 2.2 0 0 1 975.17 1065 V1098 Z M988.82 1098 V1093.8 A2.2 2.2 0 0 1 993.22 1093.8 V1098 Z M1079.08 1098 V1082 A2.2 2.2 0 0 1 1083.48 1082 V1098 Z M1097.12 1098 V1006.6 A2.2 2.2 0 0 1 1101.53 1006.6 V1098 Z M1115.18 1098 V1006.6 A2.2 2.2 0 0 1 1119.58 1006.6 V1098 Z M1133.23 1098 V1038.7 A2.2 2.2 0 0 1 1137.63 1038.7 V1098 Z M1151.28 1098 V1038.7 A2.2 2.2 0 0 1 1155.68 1038.7 V1098 Z M1169.33 1098 V1057.5 A2.2 2.2 0 0 1 1173.73 1057.5 V1098 Z M1187.38 1098 V1052.1 A2.2 2.2 0 0 1 1191.78 1052.1 V1098 Z M1205.43 1098 V1033.3 A2.2 2.2 0 0 1 1209.83 1033.3 V1098 Z M1223.48 1098 V1046.3 A2.2 2.2 0 0 1 1227.88 1046.3 V1098 Z M1241.53 1098 V1070.3 A2.2 2.2 0 0 1 1245.93 1070.3 V1098 Z M1259.58 1098 V1070.3 A2.2 2.2 0 0 1 1263.98 1070.3 V1098 Z M1295.68 1098 V1036.3 A2.2 2.2 0 0 1 1300.08 1036.3 V1098 Z M1313.73 1098 V1036.3 A2.2 2.2 0 0 1 1318.13 1036.3 V1098 Z M1331.78 1098 V1062.7 A2.2 2.2 0 0 1 1336.18 1062.7 V1098 Z M1349.83 1098 V1068.8 A2.2 2.2 0 0 1 1354.23 1068.8 V1098 Z M1367.88 1098 V1087.8 A2.2 2.2 0 0 1 1372.28 1087.8 V1098 Z M1422.03 1098 V1089.6 A2.2 2.2 0 0 1 1426.43 1089.6 V1098 Z M1440.08 1098 V1076.8 A2.2 2.2 0 0 1 1444.48 1076.8 V1098 Z M1458.12 1098 V1081 A2.2 2.2 0 0 1 1462.53 1081 V1098 Z M1476.18 1098 V1076.1 A2.2 2.2 0 0 1 1480.58 1076.1 V1098 Z M1494.23 1098 V1062.7 A2.2 2.2 0 0 1 1498.63 1062.7 V1098 Z M1512.28 1098 V1087.2 A2.2 2.2 0 0 1 1516.68 1087.2 V1098 Z" fill="#8e8e91"/>
<path d="M56.72 1098 V1072 A2.2 2.2 0 0 1 61.12 1072 V1098 Z M74.77 1098 V1001.4 A2.2 2.2 0 0 1 79.17 1001.4 V1098 Z M92.83 1098 V1015.7 A2.2 2.2 0 0 1 97.23 1015.7 V1098 Z M110.88 1098 V1017.7 A2.2 2.2 0 0 1 115.28 1017.7 V1098 Z M128.93 1098 V1035.2 A2.2 2.2 0 0 1 133.33 1035.2 V1098 Z M146.98 1098 V975.1 A2.2 2.2 0 0 1 151.38 975.1 V1098 Z M165.03 1098 V967.6 A2.2 2.2 0 0 1 169.43 967.6 V1098 Z M183.08 1098 V967.6 A2.2 2.2 0 0 1 187.48 967.6 V1098 Z M201.13 1098 V1018.8 A2.2 2.2 0 0 1 205.53 1018.8 V1098 Z M219.18 1098 V1050.7 A2.2 2.2 0 0 1 223.58 1050.7 V1098 Z M237.23 1098 V1062.2 A2.2 2.2 0 0 1 241.63 1062.2 V1098 Z M255.28 1098 V1063.4 A2.2 2.2 0 0 1 259.68 1063.4 V1098 Z M273.32 1098 V1067.3 A2.2 2.2 0 0 1 277.72 1067.3 V1098 Z M291.38 1098 V1046.4 A2.2 2.2 0 0 1 295.77 1046.4 V1098 Z M309.43 1098 V1033.2 A2.2 2.2 0 0 1 313.82 1033.2 V1098 Z M327.48 1098 V1052.6 A2.2 2.2 0 0 1 331.88 1052.6 V1098 Z M345.52 1098 V1063.8 A2.2 2.2 0 0 1 349.92 1063.8 V1098 Z M363.57 1098 V1060 A2.2 2.2 0 0 1 367.97 1060 V1098 Z M381.62 1098 V1066.9 A2.2 2.2 0 0 1 386.02 1066.9 V1098 Z M399.68 1098 V1091.7 A2.2 2.2 0 0 1 404.07 1091.7 V1098 Z M417.73 1098 V1097.3 A2.2 0.7 0 0 1 422.12 1097.3 V1098 Z M453.82 1098 V1095.7 A2.2 2.2 0 0 1 458.22 1095.7 V1098 Z M471.88 1098 V1077.9 A2.2 2.2 0 0 1 476.27 1077.9 V1098 Z M489.93 1098 V1032.4 A2.2 2.2 0 0 1 494.32 1032.4 V1098 Z M507.98 1098 V1012.7 A2.2 2.2 0 0 1 512.38 1012.7 V1098 Z M526.02 1098 V1035.2 A2.2 2.2 0 0 1 530.42 1035.2 V1098 Z M544.07 1098 V1056.5 A2.2 2.2 0 0 1 548.47 1056.5 V1098 Z M562.12 1098 V1054.1 A2.2 2.2 0 0 1 566.52 1054.1 V1098 Z M580.17 1098 V1035.5 A2.2 2.2 0 0 1 584.57 1035.5 V1098 Z M598.22 1098 V1071.4 A2.2 2.2 0 0 1 602.62 1071.4 V1098 Z M616.27 1098 V1026.5 A2.2 2.2 0 0 1 620.67 1026.5 V1098 Z M634.32 1098 V923.2 A2.2 2.2 0 0 1 638.72 923.2 V1098 Z M652.38 1098 V724 A2.2 2.2 0 0 1 656.77 724 V1098 Z M670.42 1098 V798.9 A2.2 2.2 0 0 1 674.82 798.9 V1098 Z M688.47 1098 V986 A2.2 2.2 0 0 1 692.87 986 V1098 Z M706.52 1098 V1001.8 A2.2 2.2 0 0 1 710.92 1001.8 V1098 Z M724.57 1098 V970.4 A2.2 2.2 0 0 1 728.97 970.4 V1098 Z M742.62 1098 V988.2 A2.2 2.2 0 0 1 747.02 988.2 V1098 Z M760.67 1098 V1030.2 A2.2 2.2 0 0 1 765.07 1030.2 V1098 Z M778.72 1098 V998.2 A2.2 2.2 0 0 1 783.12 998.2 V1098 Z M796.77 1098 V988.2 A2.2 2.2 0 0 1 801.17 988.2 V1098 Z M814.82 1098 V853.3 A2.2 2.2 0 0 1 819.22 853.3 V1098 Z M832.88 1098 V890.6 A2.2 2.2 0 0 1 837.27 890.6 V1098 Z M850.92 1098 V971.6 A2.2 2.2 0 0 1 855.32 971.6 V1098 Z M868.97 1098 V998.5 A2.2 2.2 0 0 1 873.37 998.5 V1098 Z M887.02 1098 V1020 A2.2 2.2 0 0 1 891.42 1020 V1098 Z M905.07 1098 V1030.7 A2.2 2.2 0 0 1 909.47 1030.7 V1098 Z M923.12 1098 V1044.2 A2.2 2.2 0 0 1 927.52 1044.2 V1098 Z M941.17 1098 V1078.1 A2.2 2.2 0 0 1 945.57 1078.1 V1098 Z M959.23 1098 V1079.7 A2.2 2.2 0 0 1 963.62 1079.7 V1098 Z M977.27 1098 V1075.1 A2.2 2.2 0 0 1 981.67 1075.1 V1098 Z M995.32 1098 V1096 A2.2 2 0 0 1 999.72 1096 V1098 Z M1085.58 1098 V1082 A2.2 2.2 0 0 1 1089.98 1082 V1098 Z M1103.62 1098 V1006.6 A2.2 2.2 0 0 1 1108.03 1006.6 V1098 Z M1121.68 1098 V1006.6 A2.2 2.2 0 0 1 1126.08 1006.6 V1098 Z M1139.73 1098 V1038.7 A2.2 2.2 0 0 1 1144.13 1038.7 V1098 Z M1157.78 1098 V1038.7 A2.2 2.2 0 0 1 1162.18 1038.7 V1098 Z M1175.83 1098 V1057.5 A2.2 2.2 0 0 1 1180.23 1057.5 V1098 Z M1193.88 1098 V1052.1 A2.2 2.2 0 0 1 1198.28 1052.1 V1098 Z M1211.93 1098 V1044 A2.2 2.2 0 0 1 1216.33 1044 V1098 Z M1229.98 1098 V1057.5 A2.2 2.2 0 0 1 1234.38 1057.5 V1098 Z M1248.03 1098 V1070.3 A2.2 2.2 0 0 1 1252.43 1070.3 V1098 Z M1266.08 1098 V1070.3 A2.2 2.2 0 0 1 1270.48 1070.3 V1098 Z M1302.18 1098 V1036.3 A2.2 2.2 0 0 1 1306.58 1036.3 V1098 Z M1320.23 1098 V1036.3 A2.2 2.2 0 0 1 1324.63 1036.3 V1098 Z M1338.28 1098 V1062.7 A2.2 2.2 0 0 1 1342.68 1062.7 V1098 Z M1356.33 1098 V1068.8 A2.2 2.2 0 0 1 1360.73 1068.8 V1098 Z M1374.38 1098 V1087.8 A2.2 2.2 0 0 1 1378.78 1087.8 V1098 Z M1428.53 1098 V1089.6 A2.2 2.2 0 0 1 1432.93 1089.6 V1098 Z M1446.58 1098 V1078 A2.2 2.2 0 0 1 1450.98 1078 V1098 Z M1464.62 1098 V1081 A2.2 2.2 0 0 1 1469.03 1081 V1098 Z M1482.68 1098 V1076.1 A2.2 2.2 0 0 1 1487.08 1076.1 V1098 Z M1500.73 1098 V1069.4 A2.2 2.2 0 0 1 1505.13 1069.4 V1098 Z M1518.78 1098 V1089 A2.2 2.2 0 0 1 1523.18 1089 V1098 Z" fill="#0a7bf7"/>
<circle cx="52.6" cy="1141.3" r="5.95" fill="#0a7bf7"/><circle cx="134.3" cy="1141.3" r="5.95" fill="#8e8e91"/><text x="66.8" y="1147.1" font-family='"Liberation Sans", sans-serif' font-size="17" letter-spacing="0.2" fill="#7a7a7e" stroke="#7a7a7e" stroke-width="0.25">Actual</text><text x="148.4" y="1147.1" font-family='"Liberation Sans", sans-serif' font-size="17" letter-spacing="0.12" fill="#7a7a7e" stroke="#7a7a7e" stroke-width="0.25">Baseline</text>
</svg>
<div class="side"></div>
<svg class="abs" style="left:1660px;top:26px" width="50" height="44" viewBox="1660 26 50 44">
<defs><linearGradient id="og" x1="0" y1="0" x2="0" y2="1"><stop offset="0" stop-color="#f78a2c"/><stop offset="1" stop-color="#e85f0c"/></linearGradient></defs>
<g fill="url(#og)">
<path d="M1665.2 59.7 V41 Q1665.2 39.6 1666.6 39.6 H1671.1 Q1672.5 39.6 1672.5 41 V59.7 Z"/>
<path d="M1675.7 59.7 V32.4 Q1675.7 31 1677.1 31 H1681.4 Q1682.8 31 1682.8 32.4 V59.7 Z"/>
<path d="M1686.1 59.7 V36.6 Q1686.1 35.2 1687.5 35.2 H1691.7 Q1693.1 35.2 1693.1 36.6 V59.7 Z"/>
<path d="M1696.6 59.7 V45.1 Q1696.6 43.7 1698 43.7 H1702.5 Q1703.9 43.7 1703.9 45.1 V59.7 Z"/>
</g>
<rect x="1663.7" y="63" width="41.4" height="2.3" rx="1.1" fill="#e8670f"/>
</svg>
<div class="abs" style="left:1721px;top:27.2px;font-size:41px;line-height:41px;letter-spacing:-1.9px;white-space:nowrap;color:#1d1d1f">Charts</div>
<div class="head" style="top:114.3px">Data Displayed</div>
<div class="box" style="top:152.5px;height:61.6px"></div>
<div class="seg" style="left:1680.3px;top:166px;width:312.7px;height:33.4px"><div class="segsel" style="left:208.87px;top:1.7px;width:103.43px;height:30.5px"></div><div class="segsep" style="left:103.73px"></div><div class="segitem" style="left:0px;width:104.23px">Actual</div><div class="segitem" style="left:104.23px;width:104.23px">Baseline</div><div class="segitem" style="left:208.47px;width:104.23px">Both</div></div>
<div class="head" style="top:261.8px">Value</div>
<div class="box" style="top:298.6px;height:62.8px"></div>
<div class="seg" style="left:1680.3px;top:313.4px;width:312.7px;height:33.4px"><div class="segsel" style="left:156.75px;top:1.7px;width:155.55px;height:30.5px"></div><div class="segitem" style="left:0px;width:156.35px">Work</div><div class="segitem" style="left:156.35px;width:156.35px">Cost</div></div>
<div class="head" style="top:408.3px">Chart Types</div>
<div class="box" style="top:445.7px;height:119.4px"></div>
<div class="seg" style="left:1680.3px;top:460.4px;width:312.7px;height:33.4px"><div class="segsel" style="left:208.87px;top:1.7px;width:103.43px;height:30.5px"></div><div class="segsep" style="left:103.73px"></div><div class="segitem" style="left:0px;width:104.23px"></div><div class="segitem" style="left:104.23px;width:104.23px"></div><div class="segitem" style="left:208.47px;width:104.23px">Both</div></div>
<div class="head" style="top:612.7px">X-Axis Units</div>
<div class="box" style="top:649.6px;height:62.4px"></div>
<div class="seg" style="left:1680.3px;top:663.9px;width:312.7px;height:33.4px"><div class="segsel" style="left:104.63px;top:1.7px;width:103.43px;height:30.5px"></div><div class="segitem" style="left:0px;width:104.23px">Day</div><div class="segitem" style="left:104.23px;width:104.23px">Week</div><div class="segitem" style="left:208.47px;width:104.23px">Month</div></div>
<div class="head" style="top:759.2px">Horizontal Zoom</div>
<div class="box" style="top:796.1px;height:63px"></div>
<div class="seg" style="left:1680.3px;top:810.9px;width:312.7px;height:33.4px"><div class="segsel" style="left:0.4px;top:1.7px;width:155.55px;height:30.5px"></div><div class="segitem" style="left:0px;width:156.35px">Fit</div><div class="segitem" style="left:156.35px;width:156.35px">Natural Size</div></div>
<svg class="abs" style="left:1700px;top:460px" width="160" height="35" viewBox="1700 460 160 35">
<g fill="none" stroke="#1d1d1f" stroke-linecap="butt" stroke-linejoin="miter"><path d="M1721.9 467.6 V484.4 H1741.4" stroke-width="1.35"/><path d="M1722.3 477.4 L1728 474.3 L1732.8 478.4 L1739.8 473.6" stroke-width="1.2"/></g>
<g fill="#1d1d1f"><circle cx="1728" cy="474.3" r="1.45"/><circle cx="1732.8" cy="478.4" r="1.45"/><circle cx="1739.8" cy="473.6" r="1.5"/>
<rect x="1827.1" y="472.1" width="3.5" height="9.6" rx="0.5"/><rect x="1832.4" y="467.7" width="3.5" height="14" rx="0.5"/><rect x="1837.6" y="469.9" width="3.4" height="11.8" rx="0.5"/><rect x="1842.9" y="474" width="3.3" height="7.7" rx="0.5"/><rect x="1826.2" y="483.8" width="20.7" height="1.4" rx="0.6"/></g>
</svg>
<div class="abs" style="left:1680.3px;top:508.3px;width:315.5px;height:1.2px;background:#d7d7db"></div>
<div class="lbl" style="left:1679.4px;top:527.6px">S-Curve Symbol</div>
<div class="abs" style="left:1956px;top:528px;width:39px;height:22.6px;border-radius:11.3px;background:linear-gradient(#ee7a12,#ef8526);box-shadow:inset 0 0 0 0.5px rgba(0,0,0,0.12)"></div>
<div class="abs" style="left:1973.6px;top:529.4px;width:20px;height:20px;border-radius:10px;background:#fff;box-shadow:0 0 1px rgba(0,0,0,0.3)"></div>
<div class="abs" style="left:0;top:1198px;width:2040px;height:2px;background:#e9e8ec"></div>
<div class="abs" style="left:0;top:1200px;width:2040px;height:90px;background:#fefefe"></div>
<div class="abs" style="left:1913.3px;top:1229.2px;width:97px;height:31.2px;box-sizing:border-box;border-radius:7.5px;background:#fff;border:1px solid rgba(0,0,0,0.07);box-shadow:0 0.8px 0.8px rgba(0,0,0,0.07)"></div>
<div class="lbl" style="left:1913.3px;top:1234.3px;width:97px;text-align:center">Done</div>
<svg class="abs" style="left:0;top:0" width="2040" height="1290" viewBox="0 0 2040 1290"><g fill="#000"><path d="M0 0 H9.3 L0 9.3 Z"/><path d="M2040 0 H2030.7 L2040 9.3 Z"/><path d="M0 1290 H9.3 L0 1280.7 Z"/><path d="M2040 1290 H2030.7 L2040 1280.7 Z"/></g></svg>
</body></html>
